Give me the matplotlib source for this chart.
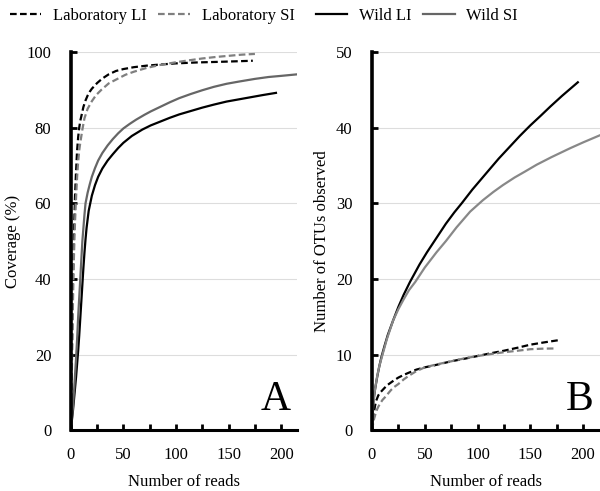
import numpy as np
import matplotlib
matplotlib.use("Agg")
import matplotlib.pyplot as plt

plt.rcParams['font.family'] = ['Liberation Serif', 'DejaVu Serif']

# Panel A: coverage (%)
cov_lab_li_x = [0, 0.5, 1, 1.5, 2, 2.5, 3, 3.5, 4, 5, 6, 7, 8, 9, 10, 12, 14, 16, 18, 20, 25, 30,
                36, 43, 50, 60, 72, 85, 100, 120, 140, 157, 173]
cov_lab_li_y = [0, 10, 20, 30, 40, 46, 52, 57, 62, 68.5, 74, 77.5, 80, 81.8, 83, 85.5, 87.2, 88.5, 89.5,
                90.3, 91.8, 93, 94.1, 95, 95.5, 96, 96.4, 96.7, 97, 97.25, 97.4, 97.55, 97.7]
cov_lab_si_x = [0, 0.5, 1, 1.5, 2, 2.5, 3, 3.5, 4, 5, 6, 7, 8, 9, 11, 13, 16, 20, 24, 29, 36, 45,
                52, 60, 72, 85, 100, 112, 125, 138, 150, 162, 175]
cov_lab_si_y = [0, 7, 15, 24, 33, 40, 46, 51, 55, 61.5, 67, 71, 74, 76, 79.5, 82.5, 85, 87, 88.6, 90,
                91.7, 93, 94, 94.8, 95.8, 96.6, 97.3, 97.8, 98.3, 98.7, 99.0, 99.3, 99.5]
cov_wild_li_x = [0, 2, 3, 4, 5, 6, 7, 8, 9, 10, 11, 12, 13, 14, 15, 17, 20, 23, 26, 30, 35, 40, 45,
                 50, 58, 68, 76, 85, 94, 103, 114, 125, 136, 148, 160, 170, 182, 195]
cov_wild_li_y = [0, 5, 8, 11, 14, 17.5, 21, 25, 29.5, 34, 38.5, 43, 47, 50.5, 53.5, 58, 62, 64.8, 67,
                 69.2, 71.3, 73, 74.6, 76, 77.8, 79.5, 80.6, 81.6, 82.6, 83.5, 84.4, 85.3, 86.1, 86.9,
                 87.5, 88.0, 88.6, 89.2]
cov_wild_si_x = [0, 2, 3, 4, 5, 6, 7, 8, 9, 10, 11, 12, 13, 14, 16, 18, 20, 23, 26, 30, 35, 40, 45,
                 50, 56, 62, 70, 76, 85, 94, 103, 114, 125, 136, 148, 160, 175, 188, 200, 215]
cov_wild_si_y = [0, 6, 10, 14.5, 19, 24, 30, 35, 40, 45, 50, 53.5, 57, 60, 62.8, 65, 67, 69.3, 71.3,
                 73.3, 75.3, 77, 78.5, 79.8, 81, 82.1, 83.4, 84.3, 85.5, 86.7, 87.8, 88.9, 89.9, 90.8,
                 91.6, 92.2, 92.9, 93.4, 93.7, 94.1]

# Panel B: number of OTUs observed
otu_lab_li_x = [0, 1, 2, 3, 4, 6, 8, 10, 12, 15, 18, 21, 25, 30, 35, 42, 50, 60, 75, 88, 100, 112,
                125, 138, 150, 163, 177]
otu_lab_li_y = [0, 1.5, 2.5, 3.3, 3.9, 4.6, 5.0, 5.3, 5.6, 6.0, 6.3, 6.6, 6.95, 7.3, 7.6, 8.0, 8.3,
                8.6, 9.1, 9.45, 9.8, 10.15, 10.5, 10.9, 11.3, 11.6, 11.9]
otu_lab_si_x = [0, 1, 2, 3, 4, 6, 8, 10, 12, 15, 18, 21, 25, 30, 35, 42, 50, 60, 75, 88, 100, 112,
                125, 138, 150, 163, 175]
otu_lab_si_y = [0, 0.8, 1.5, 2.0, 2.5, 3.1, 3.6, 4.0, 4.3, 4.8, 5.3, 5.7, 6.1, 6.7, 7.2, 7.8, 8.3,
                8.65, 9.1, 9.5, 9.8, 10.05, 10.3, 10.5, 10.7, 10.78, 10.8]
otu_wild_li_x = [0, 1, 2, 3, 5, 7, 9, 12, 15, 20, 25, 30, 36, 45, 52, 61, 70, 78, 85, 95, 109, 120,
                 130, 140, 150, 160, 169, 180, 195]
otu_wild_li_y = [0, 3.2, 4.5, 5.5, 7.1, 8.5, 9.7, 11.2, 12.6, 14.5, 16.3, 17.9, 19.6, 21.9, 23.5,
                 25.4, 27.3, 28.8, 30.0, 31.8, 34.1, 35.9, 37.4, 38.9, 40.3, 41.6, 42.8, 44.2, 46]
otu_wild_si_x = [0, 1, 2, 3, 5, 7, 10, 14, 20, 25, 30, 35, 41, 50, 61, 70, 80, 93, 105, 115, 124,
                 135, 145, 156, 170, 188, 200, 216]
otu_wild_si_y = [0, 3, 4.5, 5.5, 7.2, 8.5, 10, 12, 14.5, 16, 17.3, 18.5, 19.6, 21.5, 23.5, 25, 26.8,
                 28.9, 30.4, 31.5, 32.4, 33.4, 34.2, 35.1, 36.1, 37.3, 38.05, 39.0]

fig = plt.figure(figsize=(6, 4.91), dpi=100)
axA = fig.add_axes([0.118, 0.124, 0.377, 0.770])
axB = fig.add_axes([0.620, 0.124, 0.380, 0.770])

dash = (3, 1.5)
lw = 1.6


def style(ax, ymax, ystep, xmax, letter, ylabel):
    ax.set_xlim(0, xmax)
    ax.set_ylim(0, ymax)
    ax.spines['top'].set_visible(False)
    ax.spines['right'].set_visible(False)
    ax.spines['left'].set_linewidth(2.6)
    ax.spines['bottom'].set_linewidth(2.2)
    ax.set_yticks(np.arange(0, ymax + 1, ystep))
    ax.set_xticks([0, 50, 100, 150, 200])
    ax.set_xticks(np.arange(25, xmax, 50), minor=True)
    ax.tick_params(axis='y', direction='in', length=4, width=2, pad=14, labelsize=12)
    ax.tick_params(axis='x', which='both', direction='in', length=4, width=2, pad=12, labelsize=12)
    ax.grid(axis='y', color='#dddddd', linewidth=0.8)
    ax.set_axisbelow(True)
    ax.set_xlabel("Number of reads", fontsize=12, labelpad=8)
    ax.set_ylabel(ylabel, fontsize=12, labelpad=4)
    ax.text(0.97, 0.03, letter, transform=ax.transAxes, ha='right', va='bottom', fontsize=30)


la1, = axA.plot(cov_lab_li_x, cov_lab_li_y, color='black', lw=lw, dashes=dash, label='Laboratory LI')
la2, = axA.plot(cov_lab_si_x, cov_lab_si_y, color='#7f7f7f', lw=lw, dashes=dash, label='Laboratory SI')
wi1, = axA.plot(cov_wild_li_x, cov_wild_li_y, color='black', lw=lw, label='Wild LI')
wi2, = axA.plot(cov_wild_si_x, cov_wild_si_y, color='#666666', lw=lw, label='Wild SI')
style(axA, 100, 20, 215, 'A', 'Coverage (%)')

axB.plot(otu_lab_li_x, otu_lab_li_y, color='black', lw=lw, dashes=dash)
axB.plot(otu_lab_si_x, otu_lab_si_y, color='#7f7f7f', lw=lw, dashes=dash)
axB.plot(otu_wild_li_x, otu_wild_li_y, color='black', lw=lw)
axB.plot(otu_wild_si_x, otu_wild_si_y, color='#888888', lw=lw)
style(axB, 50, 10, 216, 'B', 'Number of OTUs observed')

leg_kw = dict(ncol=2, frameon=False, fontsize=12, handlelength=1.9, columnspacing=0.7,
              handletextpad=0.7, loc='upper left', borderaxespad=0)
fig.legend([la1, la2], ['Laboratory LI', 'Laboratory SI'], bbox_to_anchor=(0.005, 0.998), **leg_kw)
fig.legend([wi1, wi2], ['Wild LI', 'Wild SI'], bbox_to_anchor=(0.515, 0.998), **leg_kw)

fig.savefig("out.png", dpi=100)
